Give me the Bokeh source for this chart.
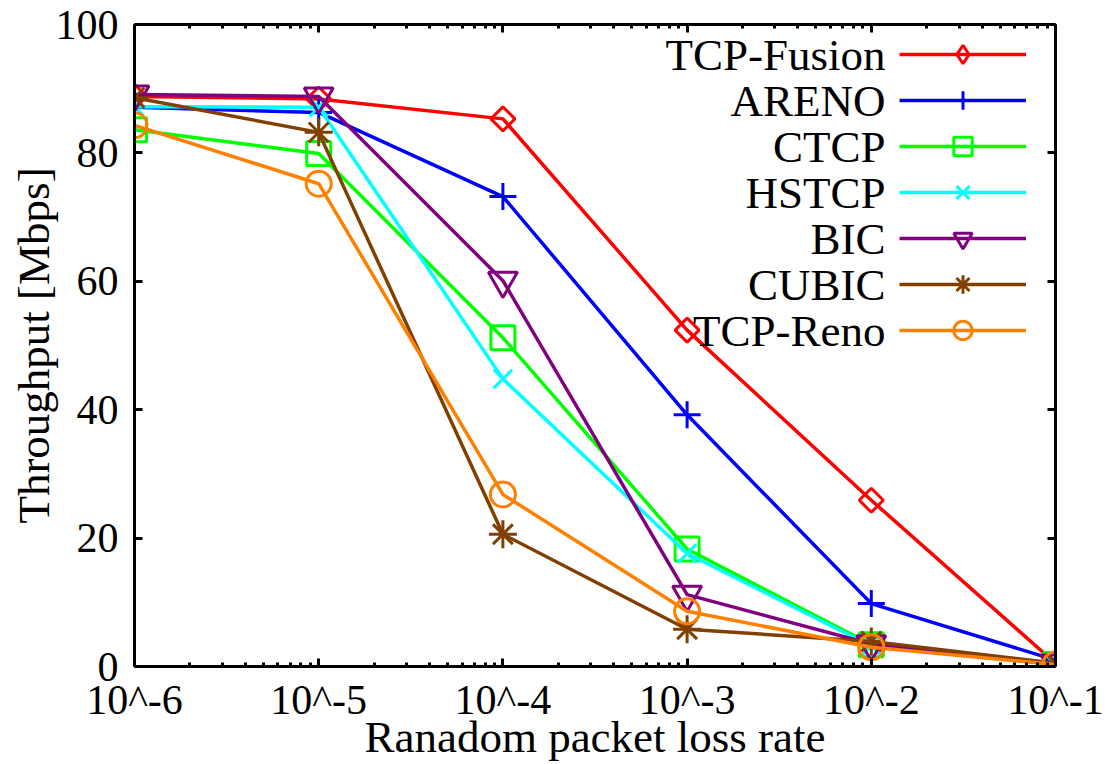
from bokeh.plotting import figure
from bokeh.models import (Range1d, FixedTicker, LogAxis, LinearAxis, Legend,
                          LegendItem, Label)
from bokeh.core.properties import value
from bokeh.embed import file_html
from bokeh.resources import INLINE

# x: random packet loss rate (log scale), y: throughput in Mbps
loss_rates = [1e-6, 1e-5, 1e-4, 1e-3, 1e-2, 1e-1]
rate_labels = ["10^-6", "10^-5", "10^-4", "10^-3", "10^-2", "10^-1"]
throughput_ticks = [0, 20, 40, 60, 80, 100]

tcp_fusion = [88.8, 88.4, 85.3, 52.4, 25.9, 0.5]
areno = [87.1, 86.3, 73.2, 39.2, 9.8, 1.0]
ctcp = [83.6, 79.9, 51.2, 18.3, 3.4, 0.3]
hstcp = [87.2, 87.1, 44.8, 17.6, 3.2, 0.3]
bic = [89.1, 88.8, 60.1, 11.2, 3.5, 0.5]
cubic = [88.6, 83.2, 20.6, 5.8, 3.9, 0.5]
tcp_reno = [84.3, 75.2, 26.8, 8.6, 3.0, 0.3]

series_names = ["TCP-Fusion", "ARENO", "CTCP", "HSTCP", "BIC", "CUBIC", "TCP-Reno"]
series_values = [tcp_fusion, areno, ctcp, hstcp, bic, cubic, tcp_reno]
series_colors = ["#ff0000", "#0000ff", "#00ff00", "#00ffff", "#800080", "#804000", "#ff8000"]
# plot marker / legend key marker (the diamond is a square turned by 45 degrees)
series_markers = ["square", "cross", "square", "x", "inverted_triangle", "asterisk", "circle"]
key_markers = ["diamond", "cross", "square", "x", "inverted_triangle", "asterisk", "circle"]
marker_sizes = [17, 27, 24, 26, 29, 28, 25]
marker_angles = [0.785398, 0, 0, 0, 0, 0, 0]

FONT = "'Liberation Serif'"

p = figure(width=1105, height=764, x_axis_type="log",
           x_range=Range1d(1e-6, 1e-1), y_range=Range1d(0, 100),
           output_backend="svg", toolbar_location=None,
           min_border_top=24, min_border_right=50, min_border_left=134,
           min_border_bottom=0)
p.background_fill_color = "white"
p.border_fill_color = "white"
p.outline_line_color = None
p.grid.visible = False

minor_rates = [m * 10.0 ** e for e in range(-6, -1) for m in range(2, 10)]
x_ticker = FixedTicker(ticks=loss_rates, minor_ticks=minor_rates)
y_ticker = FixedTicker(ticks=throughput_ticks, minor_ticks=[])


def style_axis(ax, show_labels):
    ax.axis_line_width = 3
    ax.axis_line_color = "black"
    ax.major_tick_in = 8
    ax.major_tick_out = 0
    ax.major_tick_line_width = 3
    ax.major_tick_line_color = "black"
    ax.minor_tick_in = 4
    ax.minor_tick_out = 0
    ax.minor_tick_line_width = 3
    ax.minor_tick_line_color = "black"
    if show_labels:
        ax.major_label_text_font = FONT
        ax.major_label_text_font_size = "42px"
        ax.major_label_text_color = "black"
        ax.axis_label_text_font = FONT
        ax.axis_label_text_font_size = "45px"
        ax.axis_label_text_font_style = "normal"
        ax.axis_label_text_color = "black"
    else:
        ax.major_label_text_font_size = "1px"
        ax.major_label_text_color = None
        ax.major_label_standoff = 0


xb = p.xaxis[0]
xb.ticker = x_ticker
xb.major_label_overrides = dict(zip(loss_rates, rate_labels))
xb.axis_label = "Ranadom packet loss rate"
style_axis(xb, True)
xb.major_label_standoff = 10
xb.axis_label_standoff = -14

yl = p.yaxis[0]
yl.ticker = y_ticker
yl.axis_label = "Throughput [Mbps]"
style_axis(yl, True)
yl.minor_tick_line_color = None
yl.major_label_standoff = 16
yl.axis_label_standoff = -6

xt = LogAxis(ticker=x_ticker)
style_axis(xt, False)
p.add_layout(xt, "above")

yr = LinearAxis(ticker=y_ticker)
style_axis(yr, False)
yr.minor_tick_line_color = None
p.add_layout(yr, "right")

items = []
for name, vals, color, marker, kmarker, size, ang in zip(
        series_names, series_values, series_colors, series_markers, key_markers,
        marker_sizes, marker_angles):
    lr = p.line(loss_rates, vals, line_color=color, line_width=3.5)
    sr = p.scatter(loss_rates, vals, marker=marker, size=size, angle=ang,
                   line_color=color, line_width=3, fill_color=None)
    key = [lr, sr]
    if kmarker != marker:
        # same points with the key's own marker shape, shown only in the legend
        kr = p.scatter(loss_rates, vals, marker=kmarker, size=size,
                       line_color=color, line_width=3, fill_color=None, visible=False)
        key = [lr, kr]
    items.append(LegendItem(label=value(" "), renderers=key))

# key samples drawn by the legend, names placed to their left
ROW_PITCH = 46
legend = Legend(items=items, location=(765, 313), glyph_width=127, glyph_height=ROW_PITCH,
                spacing=0, padding=0, margin=0, border_line_color=None,
                background_fill_alpha=0, label_width=1, label_height=1,
                label_standoff=0, label_text_font_size="2px")
p.add_layout(legend)

for i, name in enumerate(series_names):
    p.add_layout(Label(x=751, y=612 - i * ROW_PITCH, x_units="screen", y_units="screen",
                       text=name, text_align="right", text_baseline="middle",
                       text_font=FONT, text_font_size="45px", text_color="black"))

open("out.html", "w").write(file_html(p, INLINE))
